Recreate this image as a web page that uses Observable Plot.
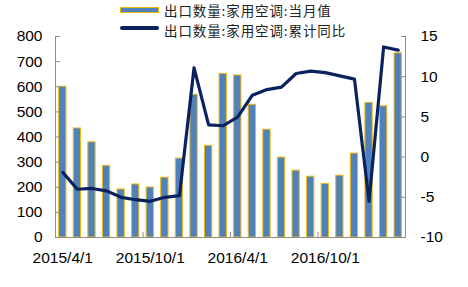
<!DOCTYPE html>
<html><head><meta charset="utf-8">
<script src="https://cdn.jsdelivr.net/npm/d3@7"></script>
<script src="https://cdn.jsdelivr.net/npm/@observablehq/plot@0.6"></script>
<style>
body{margin:0;background:#fff;font-family:"Liberation Sans",Arial,sans-serif;}
#legend{height:30px;position:relative;width:468px;font-family:"Noto Sans CJK SC",sans-serif;font-size:13.5px;letter-spacing:0.9px;color:#222;}
#legend .row{position:absolute;left:0;height:20px;line-height:20px;width:468px;}
#legend .txt{position:absolute;left:164px;top:0;white-space:nowrap;}
#legend .sw-bar{position:absolute;left:120px;top:7px;width:37px;height:4px;background:#4F81BD;border:1px solid #F2B705;}
#legend .sw-line{position:absolute;left:120px;top:6.6px;width:39px;height:3.5px;background:#0B2260;border-radius:2px;}
#chart svg{display:block;}
</style></head><body>
<div id="legend">
  <div class="row" style="top:0px"><span class="sw-bar"></span><span class="txt">出口数量:家用空调:当月值</span></div>
  <div class="row" style="top:19.6px"><span class="sw-line"></span><span class="txt">出口数量:家用空调:累计同比</span></div>
</div>
<div id="chart"></div>
<script>
const months = ["2015/4/1","2015/5/1","2015/6/1","2015/7/1","2015/8/1","2015/9/1",
  "2015/10/1","2015/11/1","2015/12/1","2016/1/1","2016/2/1","2016/3/1",
  "2016/4/1","2016/5/1","2016/6/1","2016/7/1","2016/8/1","2016/9/1",
  "2016/10/1","2016/11/1","2016/12/1","2017/1/1","2017/2/1","2017/3/1"];
const exportVolume = [600, 434, 379, 285, 191, 211, 199, 238, 314, 568, 365, 651,
  645, 528, 429, 318, 266, 242, 213, 246, 334, 536, 522, 733];
const cumulativeYoY = [-1.9, -4.0, -3.9, -4.2, -5.0, -5.3, -5.5, -5.0, -4.8, 11.1, 4.0, 3.9,
  5.0, 7.7, 8.4, 8.7, 10.4, 10.7, 10.5, 10.1, 9.7, -5.5, 13.7, 13.3];
const leftTicks = [0, 100, 200, 300, 400, 500, 600, 700, 800];
const rightTicks = [-10, -5, 0, 5, 10, 15];
const xLabels = ["2015/4/1", "2015/10/1", "2016/4/1", "2016/10/1"];
const xBoundaryTicks = ["2015/10/1", "2016/4/1", "2016/10/1"];

const leftMax = 800, rightMin = -10, rightMax = 15;
const toLeft = v => (v - rightMin) / (rightMax - rightMin) * leftMax;
const fromLeft = v => Math.round(v / leftMax * (rightMax - rightMin) + rightMin);

const data = months.map((m, i) => ({month: m, value: exportVolume[i], yoy: cumulativeYoY[i]}));

const W = 468, H = 257, mL = 55, mR = 63;
const step = (W - mL - mR) / months.length;

const chart = Plot.plot({
  width: W, height: H,
  marginTop: 6, marginBottom: 50, marginLeft: mL, marginRight: mR,
  style: {fontFamily: '"Liberation Sans", Arial, sans-serif', fontSize: "15.5px", color: "#000", background: "#fff", overflow: "visible"},
  x: {type: "band", domain: months, paddingInner: 0.5, paddingOuter: 0.25, round: false, label: null},
  y: {domain: [0, leftMax], label: null},
  marks: [
    Plot.barY(data, {x: "month", y: "value", fill: "#4F81BD", stroke: "#F2B705", strokeWidth: 1}),
    Plot.frame({anchor: "left", stroke: "#8c8c8c"}),
    Plot.frame({anchor: "right", stroke: "#8c8c8c"}),
    Plot.frame({anchor: "bottom", stroke: "#8c8c8c"}),
    Plot.axisY({anchor: "left", ticks: leftTicks, tickSize: -5, tickPadding: 18, stroke: "#8c8c8c", label: null}),
    Plot.axisY({anchor: "right", ticks: rightTicks.map(toLeft), tickFormat: fromLeft, tickSize: -5, tickPadding: 20, stroke: "#8c8c8c", label: null}),
    Plot.axisX({ticks: xLabels, tickSize: 0, tickPadding: 14, label: null}),
    Plot.axisX({ticks: xBoundaryTicks, tickSize: -5, tickFormat: () => "", dx: -step / 2, stroke: "#8c8c8c", label: null}),
    Plot.lineY(data, {x: "month", y: d => toLeft(d.yoy), stroke: "#0B2260", strokeWidth: 3.2})
  ]
});
document.getElementById("chart").appendChild(chart);
</script>
</body></html>
